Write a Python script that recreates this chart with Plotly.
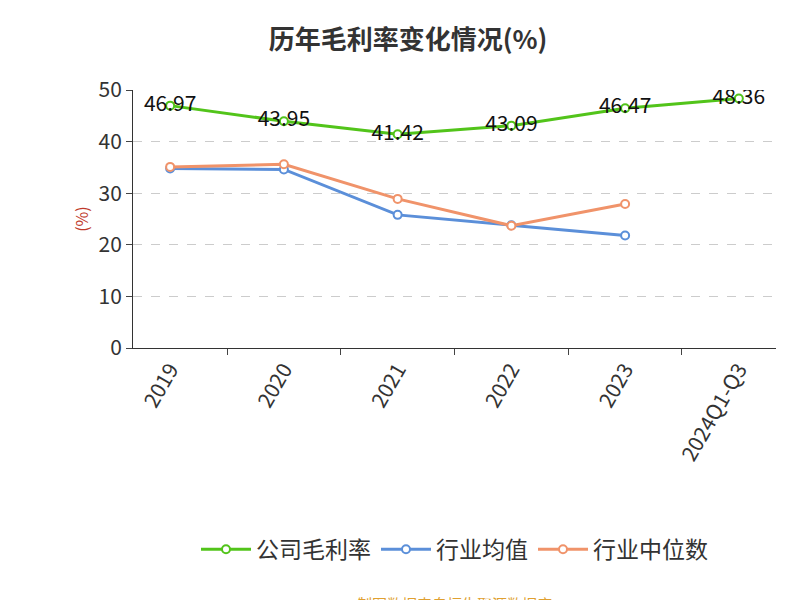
import plotly.graph_objects as go

cats = ["2019", "2020", "2021", "2022", "2023", "2024Q1-Q3"]
company = [46.97, 43.95, 41.42, 43.09, 46.47, 48.36]
ind_avg = [34.8, 34.6, 25.8, 23.8, 21.8]
ind_med = [35.1, 35.6, 28.9, 23.7, 27.9]

fig = go.Figure()
fig.add_trace(go.Scatter(x=cats, y=company, name="公司毛利率", mode="lines+markers+text",
    text=[f"{v:.2f}" for v in company], textposition="middle center",
    textfont=dict(size=21, color="#111"),
    line=dict(color="#52c41a", width=3),
    marker=dict(size=8, color="white", line=dict(color="#52c41a", width=2))))
fig.add_trace(go.Scatter(x=cats[:5], y=ind_avg, name="行业均值", mode="lines+markers",
    line=dict(color="#5b8fd9", width=3),
    marker=dict(size=8, color="white", line=dict(color="#5b8fd9", width=2))))
fig.add_trace(go.Scatter(x=cats[:5], y=ind_med, name="行业中位数", mode="lines+markers",
    line=dict(color="#f0936a", width=3),
    marker=dict(size=8, color="white", line=dict(color="#f0936a", width=2))))

fig.update_layout(
    width=800, height=600, plot_bgcolor="white", paper_bgcolor="white",
    font=dict(family="Noto Sans CJK SC", color="#333"),
    title=dict(text="<b>历年毛利率变化情况(%)</b>", x=0.5, y=0.962, font=dict(size=26, color="#333")),
    margin=dict(l=125, r=32, t=82, b=260),
    showlegend=True,
    legend=dict(orientation="h", x=0.5, xanchor="center", y=-0.78, yanchor="middle",
                font=dict(size=23, color="#333"), itemwidth=50),
    xaxis=dict(type="category", tickangle=-60, tickfont=dict(size=21, color="#333"),
               showline=True, linecolor="#333", linewidth=1, ticks="outside",
               tickson="boundaries", ticklen=6, showgrid=False),
    yaxis=dict(range=[0, 50], dtick=10, tickfont=dict(size=21, color="#333"),
               showline=True, linecolor="#333", ticks="outside", ticklen=6,
               gridcolor="#ccc", griddash="dash", zeroline=False,
               title=dict(text="(%)", font=dict(size=16, color="#c0392b"), standoff=5)),
    annotations=[dict(text="制图数据来自恒生聚源数据库", x=0.5, xref="paper", y=-0.99, yref="paper",
                      xanchor="center", yanchor="middle", showarrow=False,
                      font=dict(size=15, color="#e0a030"))],
)
fig.write_html("out.html")
